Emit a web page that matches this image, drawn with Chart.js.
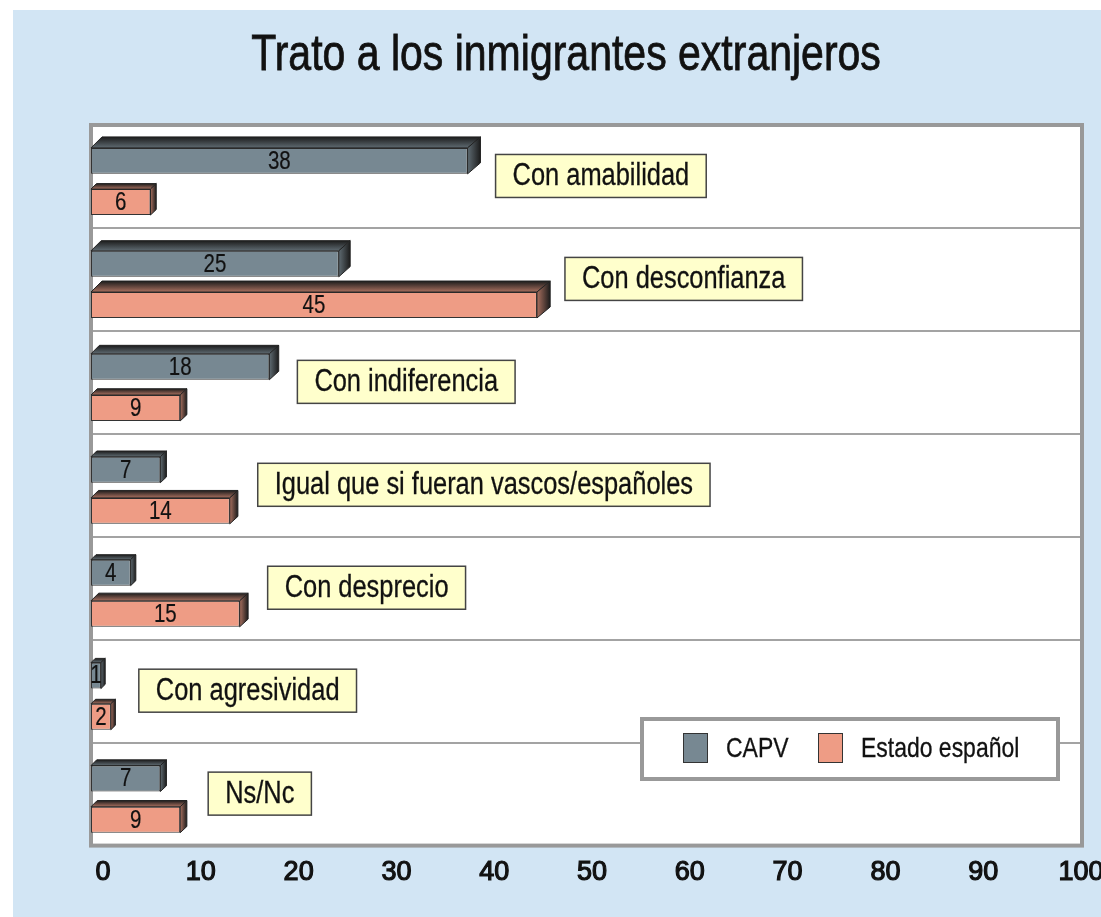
<!DOCTYPE html>
<html>
<head>
<meta charset="utf-8">
<script src="https://cdn.jsdelivr.net/npm/chart.js@4.4.1/dist/chart.umd.min.js"></script>
<style>
html, body { margin: 0; padding: 0; background: #fff; }
</style>
</head>
<body>
<canvas id="myChart" width="1101" height="917"></canvas>
<script>
// datos
const categorias = ["Con amabilidad", "Con desconfianza", "Con indiferencia",
  "Igual que si fueran vascos/españoles", "Con desprecio", "Con agresividad", "Ns/Nc"];
const capv = [38, 25, 18, 7, 4, 1, 7];
const estado = [6, 45, 9, 14, 15, 2, 9];
const series = ["CAPV", "Estado español"];
const ticksX = [0, 10, 20, 30, 40, 50, 60, 70, 80, 90, 100];
const titulo = "Trato a los inmigrantes extranjeros";

const colores = ["#778892", "#ee9c85"];
const sombras = ["#5f6b72", "#a9705f"];
const FONT = '"Liberation Sans Narrow", "Arial Narrow", "Liberation Sans", sans-serif';

// si no hay fuente estrecha, se comprime el texto a mano
let squeeze = 1;
(function () {
  const c = document.createElement("canvas").getContext("2d");
  c.font = "40px " + FONT;
  const a = c.measureText("Con amabilidad").width;
  c.font = '40px "Liberation Sans", sans-serif';
  const b = c.measureText("Con amabilidad").width;
  if (a / b > 0.93) squeeze = 0.82;
})();

function texto(ctx, str, x, y, size, align, grosor) {
  ctx.save();
  ctx.font = size + "px " + FONT;
  ctx.textBaseline = "middle";
  ctx.textAlign = align;
  ctx.fillStyle = "#111";
  ctx.translate(x, y);
  ctx.scale(squeeze, 1);
  if (grosor) {
    ctx.strokeStyle = "#111";
    ctx.lineWidth = grosor;
    ctx.strokeText(str, 0, 0);
  }
  ctx.fillText(str, 0, 0);
  ctx.restore();
}
function ancho(ctx, str, size) {
  ctx.save();
  ctx.font = size + "px " + FONT;
  const w = ctx.measureText(str).width * squeeze;
  ctx.restore();
  return w;
}

const SHIFT = 5;

const fondo = {
  id: "fondo",
  beforeDraw(chart) {
    const ctx = chart.ctx, a = chart.chartArea;
    ctx.save();
    ctx.fillStyle = "#fff";
    ctx.fillRect(0, 0, chart.width, chart.height);
    ctx.fillStyle = "#d2e5f4";
    ctx.fillRect(13, 10, chart.width - 13, chart.height - 10);
    ctx.fillStyle = "#fff";
    ctx.fillRect(a.left, a.top, a.right - a.left, a.bottom - a.top);
    texto(ctx, titulo, 566, 56, 50, "center", 0.8);
    ctx.restore();
  },
  beforeDatasetsDraw(chart) {
    const ctx = chart.ctx, a = chart.chartArea;
    ctx.save();
    ctx.strokeStyle = "#999";
    ctx.lineWidth = 4;
    ctx.strokeRect(a.left, a.top, a.right - a.left, a.bottom - a.top);
    ctx.restore();
    ctx.save();
    ctx.translate(0, SHIFT);
  },
  afterDatasetsDraw(chart) {
    const ctx = chart.ctx;
    chart.data.datasets.forEach((ds, di) => {
      const meta = chart.getDatasetMeta(di);
      meta.data.forEach((el, i) => {
        const p = el.getProps(["x", "y", "base", "height"], true);
        const top = p.y - p.height / 2;
        const w = p.x - p.base;
        const dy = Math.min(11, 4 + w * 0.025);
        const dxR = dy + w * 0.005;
        // cara superior
        let g = ctx.createLinearGradient(0, top - dy, 0, top);
        g.addColorStop(0, "#1c1c1c");
        g.addColorStop(1, sombras[di]);
        ctx.beginPath();
        ctx.moveTo(p.base, top);
        ctx.lineTo(p.base + dy, top - dy);
        ctx.lineTo(p.x + dxR, top - dy);
        ctx.lineTo(p.x, top);
        ctx.closePath();
        ctx.fillStyle = g;
        ctx.fill();
        ctx.strokeStyle = "#222";
        ctx.lineWidth = 1;
        ctx.stroke();
        // cara lateral
        g = ctx.createLinearGradient(p.x, 0, p.x + dxR, 0);
        g.addColorStop(0, sombras[di]);
        g.addColorStop(1, "#1c1c1c");
        ctx.beginPath();
        ctx.moveTo(p.x, top);
        ctx.lineTo(p.x + dxR, top - dy);
        ctx.lineTo(p.x + dxR, top - dy + p.height);
        ctx.lineTo(p.x, top + p.height);
        ctx.closePath();
        ctx.fillStyle = g;
        ctx.fill();
        ctx.stroke();
        // valor
        texto(ctx, String(ds.data[i]), (p.base + p.x) / 2, p.y + 1, 25, "center", 0.2);
      });
    });
    ctx.restore();
  },
  afterDraw(chart) {
    const ctx = chart.ctx;
    const xs = chart.scales.x, ys = chart.scales.y;
    // etiquetas de categoría
    categorias.forEach((c, i) => {
      const yc = ys.getPixelForValue(i) - 1;
      const left = xs.getPixelForValue(Math.max(capv[i], estado[i])) + 28;
      const w = ancho(ctx, c, 31) + 34;
      ctx.save();
      ctx.fillStyle = "#ffffcc";
      ctx.fillRect(left, yc - 21, w, 43);
      ctx.strokeStyle = "#444";
      ctx.lineWidth = 1.5;
      ctx.strokeRect(left, yc - 21, w, 43);
      ctx.restore();
      texto(ctx, c, left + 17, yc + 1, 31, "left", 0.3);
    });
    // leyenda
    ctx.save();
    ctx.fillStyle = "#fff";
    ctx.fillRect(642, 719, 416, 60);
    ctx.strokeStyle = "#999";
    ctx.lineWidth = 4;
    ctx.strokeRect(642, 719, 416, 60);
    const lx = [683, 818];
    chart.data.datasets.forEach((ds, di) => {
      ctx.fillStyle = ds.backgroundColor;
      ctx.fillRect(lx[di], 733, 25, 30);
      ctx.strokeStyle = "#333";
      ctx.lineWidth = 1;
      ctx.strokeRect(lx[di] + 0.5, 733.5, 24, 29);
      texto(ctx, ds.label, lx[di] + 43, 749, 28, "left", 0.3);
    });
    ctx.restore();
  }
};

new Chart("myChart", {
  type: "bar",
  data: {
    labels: categorias,
    datasets: [{
      label: series[0],
      data: capv,
      backgroundColor: colores[0],
      borderColor: "#333",
      borderWidth: 1,
      borderSkipped: false
    }, {
      label: series[1],
      data: estado,
      backgroundColor: colores[1],
      borderColor: "#333",
      borderWidth: 1,
      borderSkipped: false
    }]
  },
  options: {
    responsive: false,
    animation: false,
    indexAxis: "y",
    categoryPercentage: 0.8,
    barPercentage: 0.63,
    layout: { padding: { left: 91, top: 125, right: 19, bottom: 17 } },
    plugins: { legend: { display: false }, tooltip: { enabled: false }, title: { display: false } },
    scales: {
      x: { display: false, min: 0, max: 100 },
      xt: {
        type: "linear",
        position: "bottom",
        min: -1.23,
        max: 100.1,
        grid: { display: false, drawTicks: false },
        border: { display: false },
        afterFit(scale) { scale.paddingLeft = 0; scale.paddingRight = 0; },
        ticks: {
          stepSize: 10,
          includeBounds: false,
          padding: 11,
          maxRotation: 0,
          color: "#111",
          textStrokeColor: "#111",
          textStrokeWidth: 1.2,
          font: { family: FONT, size: 27 },
          callback: v => ticksX.includes(v) ? String(v) : null
        }
      },
      y: {
        display: true,
        ticks: { display: false },
        border: { display: false },
        grid: { offset: true, color: "#a3a3a3", lineWidth: 2, drawTicks: false }
      }
    }
  },
  plugins: [fondo]
});
</script>
</body>
</html>
